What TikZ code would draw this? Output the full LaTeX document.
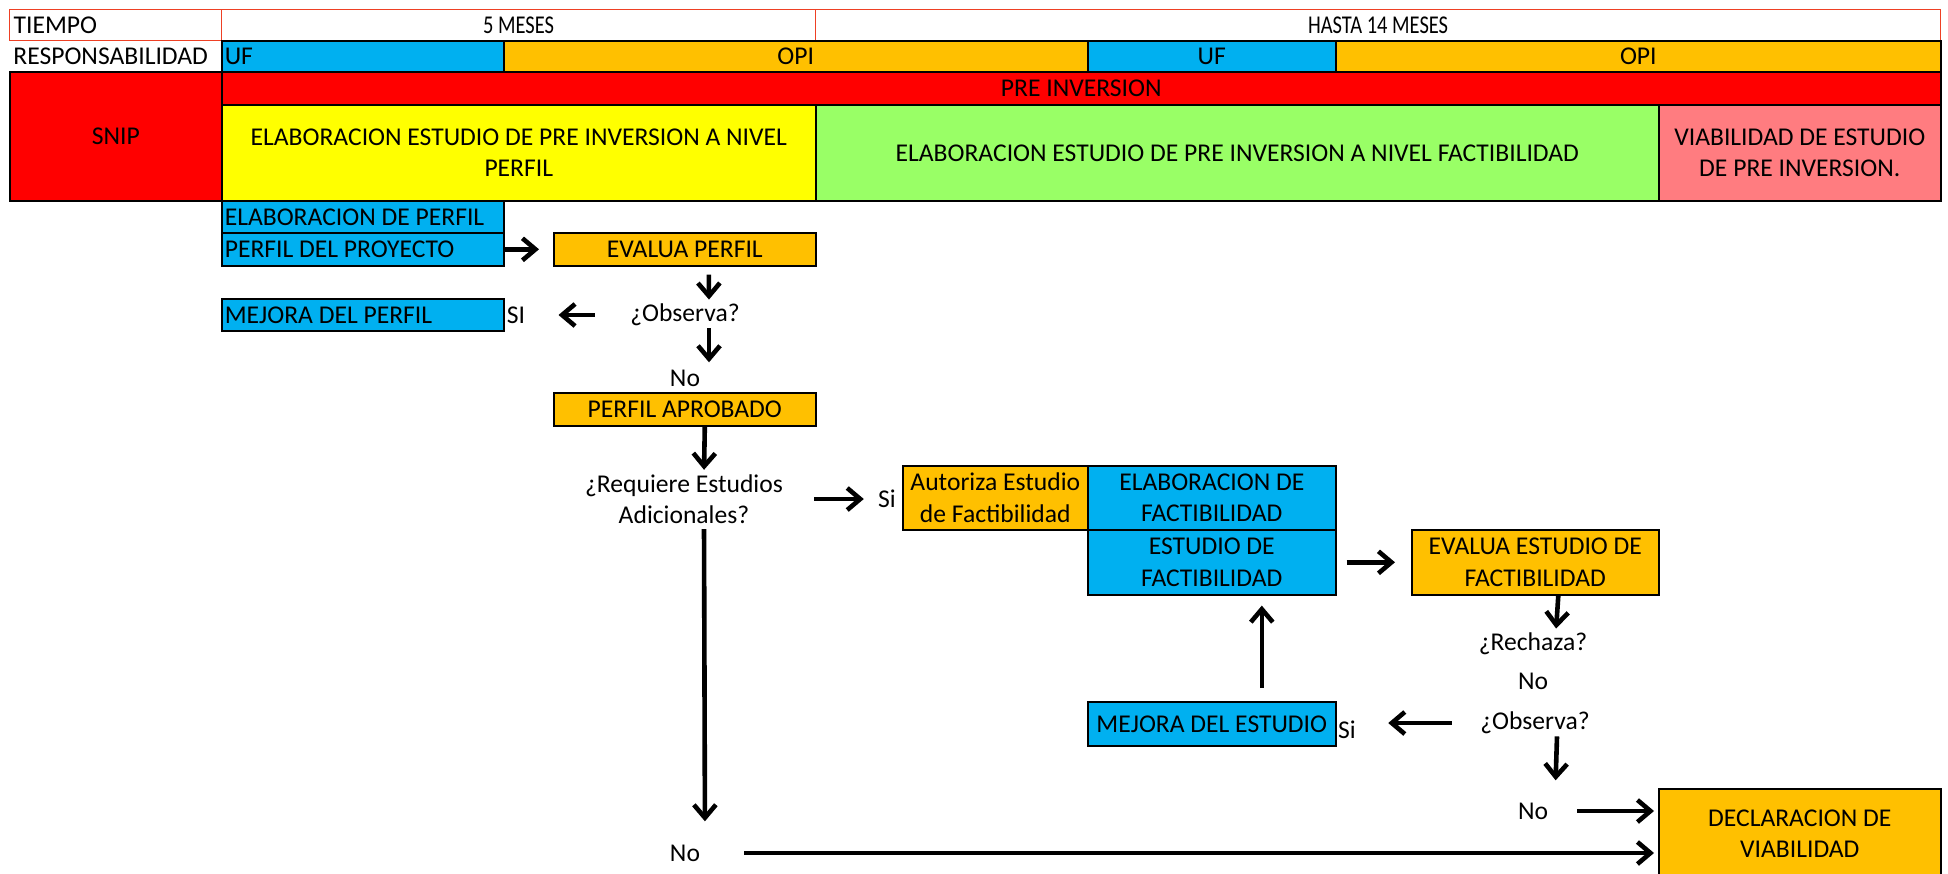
\documentclass[tikz,border=0pt]{standalone}
\usepackage{fontspec}
\setmainfont{Carlito}
\usepackage{xcolor}
\usetikzlibrary{arrows.meta}
\definecolor{snipred}{RGB}{255,0,0}
\definecolor{ufblue}{RGB}{0,176,240}
\definecolor{opiorange}{RGB}{255,192,0}
\definecolor{perfilyellow}{RGB}{255,255,0}
\definecolor{factgreen}{RGB}{153,255,102}
\definecolor{viabpink}{RGB}{255,124,128}
\definecolor{gridred}{RGB}{238,64,36}
\tikzset{
    cell/.style={thick, draw=black, anchor=north west, inner sep=1.5pt, align=center},
    timecell/.style={draw=gridred, line width=0.6pt, anchor=north west, inner sep=2pt, minimum height=15.5pt},
    txt/.style={inner sep=1pt, align=center},
    arr/.style={line width=2.3pt, -{Straight Barb[length=6.5pt, width=11pt]}},
}

\begin{document}
\begin{tikzpicture}[x=0.5pt, y=-0.5pt, font=\fontsize{12.8}{15.8}\selectfont]
    \newcommand\posL{221}
    \newcommand\posM{815}
    \newcommand\posF{1087}
    \newcommand\posR{1658}

    \useasboundingbox (0,0) rectangle (1948,873);

    \node[timecell, text width=102pt, align=flush left] (tiempo) at (9,9){TIEMPO};
    \node[timecell, minimum width=297pt] (cinco) at (\posL,9){\scalebox{0.8}[1]{5 MESES}};
    \node[timecell, minimum width=562.5pt] (hasta) at (\posM,9){\scalebox{0.8}[1]{HASTA 14 MESES}};

    \node[anchor=north west, inner sep=2pt, minimum height=15.5pt, text width=102pt, align=flush left] (resp) at (9,40){RESPONSABILIDAD};
    \node[cell, fill=ufblue, minimum height=15.5pt, text width=138pt, align=flush left] (uf1) at (\posL,40){UF};
    \node[cell, fill=opiorange, minimum width=292pt, minimum height=15.5pt] (opi1) at (503,40){OPI};
    \node[cell, fill=ufblue, minimum width=124pt, minimum height=15.5pt] (uf2) at (\posF,40){UF};
    \node[cell, fill=opiorange, minimum width=302.5pt, minimum height=15.5pt] (opi2) at (1335,40){OPI};

    \node[cell, fill=snipred, minimum width=106pt, minimum height=64.5pt] (snip) at (9,71){SNIP};
    \node[cell, fill=snipred, minimum width=859.5pt, minimum height=16.5pt] (preinv) at (\posL,71){PRE INVERSION};
    \node[cell, fill=perfilyellow, minimum width=297pt, minimum height=48pt] (nivperfil) at (\posL,104){ELABORACION ESTUDIO DE PRE INVERSION A NIVEL\\PERFIL};
    \node[cell, fill=factgreen, minimum width=421.5pt, minimum height=48pt] (nivfact) at (\posM,104){ELABORACION ESTUDIO DE PRE INVERSION A NIVEL FACTIBILIDAD};
    \node[cell, fill=viabpink, minimum width=141pt, minimum height=48pt] (viab) at (\posR,104){VIABILIDAD DE ESTUDIO\\DE PRE INVERSION.};

    \node[cell, fill=ufblue, minimum height=16pt, text width=138pt, align=flush left] (elabperf) at (\posL,200){ELABORACION DE PERFIL};
    \node[cell, fill=ufblue, minimum height=16.5pt, text width=138pt, align=flush left] (proyecto) at (\posL,232){PERFIL DEL PROYECTO};
    \node[cell, fill=opiorange, minimum width=131pt, minimum height=16.5pt] (evalperf) at (553,232){EVALUA PERFIL};
    \node[txt] (obs1) at (685,315){¿Observa?};
    \node[txt] (si1) at (516,315){SI};
    \node[cell, fill=ufblue, minimum height=16pt, text width=138pt, align=flush left] (mejperf) at (\posL,298){MEJORA DEL PERFIL};
    \node[txt] (no1) at (685,378){No};
    \node[cell, fill=opiorange, minimum width=131pt, minimum height=16.5pt] (aprobado) at (553,392){PERFIL APROBADO};

    \node[txt] (requiere) at (684,499){¿Requiere Estudios\\Adicionales?};
    \node[txt] (si2) at (887,499){Si};
    \node[cell, fill=opiorange, minimum width=92.5pt, minimum height=32pt] (autoriza) at (902,465){Autoriza Estudio\\de Factibilidad};
    \node[cell, fill=ufblue, minimum width=124pt, minimum height=32pt] (elabfact) at (\posF,465){ELABORACION DE\\FACTIBILIDAD};
    \node[cell, fill=ufblue, minimum width=124pt, minimum height=32.5pt] (estudio) at (\posF,529){ESTUDIO DE\\FACTIBILIDAD};
    \node[cell, fill=opiorange, minimum width=123.5pt, minimum height=32.5pt] (evalest) at (1411,529){EVALUA ESTUDIO DE\\FACTIBILIDAD};
    \node[txt] (rechaza) at (1533,644){¿Rechaza?};
    \node[txt] (no2) at (1533,681){No};
    \node[txt] (obs2) at (1535,723){¿Observa?};
    \node[txt] (si3) at (1347,730){Si};
    \node[cell, fill=ufblue, minimum width=124pt, minimum height=22pt] (mejest) at (\posF,701){MEJORA DEL ESTUDIO};
    \node[txt] (no3) at (1533,811){No};
    \node[cell, fill=opiorange, minimum width=141pt, minimum height=45pt] (declara) at (\posR,788){DECLARACION DE\\VIABILIDAD};
    \node[txt] (no4) at (685,853){No};

    \draw[arr, shorten >=7pt] (proyecto.east) -- (evalperf.west);
    \draw[arr, shorten <=4pt, shorten >=1pt] ([xshift=12pt]evalperf.south) -- ([xshift=12pt]obs1.north);
    \draw[arr, shorten <=16.5pt, shorten >=15.5pt] (obs1.west) -- (si1.east);
    \draw[arr, shorten >=2.5pt] ([xshift=12pt]obs1.south) -- ([xshift=12pt]no1.north);
    \draw[arr, shorten >=1pt] ([xshift=10pt]aprobado.south) -- ([xshift=10pt]requiere.north);
    \draw[arr, shorten <=14.5pt, shorten >=6pt] (requiere.east) -- (si2.west);
    \draw[arr, shorten <=1.5pt, shorten >=10.5pt] ([xshift=10pt]requiere.south) -- ([xshift=10pt]no4.north);
    \draw[arr, shorten <=21pt, shorten >=2pt] (no4.east) -- (no4.east -| declara.west);
    \draw[arr, shorten <=5pt, shorten >=8pt] (estudio.east) -- (evalest.west);
    \draw[arr, shorten >=1pt] ([xshift=11.5pt]evalest.south) -- ([xshift=11.5pt]rechaza.north);
    \draw[arr, shorten <=13pt, shorten >=15pt] (obs2.west) -- (obs2.west -| si3.east);
    \draw[arr, shorten <=6.5pt, shorten >=5pt] ([xshift=25pt]mejest.north) -- ([xshift=25pt]estudio.south);
    \draw[arr, shorten >=10pt] ([xshift=11pt]obs2.south) -- ([xshift=11pt]no3.north);
    \draw[arr, shorten <=13.5pt, shorten >=2pt] (no3.east) -- (no3.east -| declara.west);
\end{tikzpicture}
\end{document}
